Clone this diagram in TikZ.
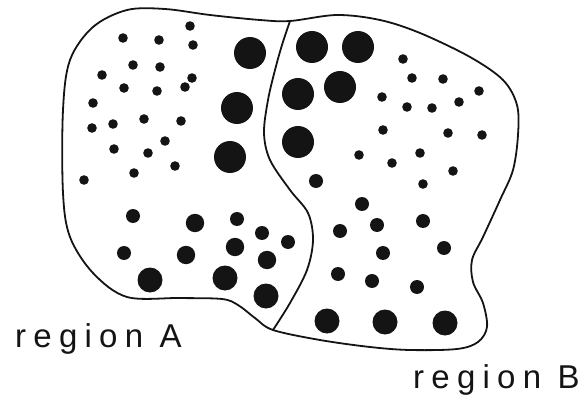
\documentclass[tikz,border=0pt]{standalone}
\usepackage{fontspec}
\usepackage{xcolor}
\usetikzlibrary{math}
\newfontfamily\regionfont[LetterSpace=22]{Liberation Sans}
\definecolor{myink}{RGB}{20,20,20}

\begin{document}
\begin{tikzpicture}[x=1pt,y=-1pt]
\tikzmath{
\rs=4.8;%small grains
\rm=7;
\rmm=9.2;
\rl=12.5;
\rL=16;
}
\tikzset{
outline/.style={draw=myink,line width=1.8pt,line join=round},
grain/.style={fill=myink},
regionlabel/.style={anchor=base west,inner sep=0pt,font=\regionfont\fontsize{33}{33}\selectfont,text=myink}
}
\useasboundingbox (0,0) rectangle (587,404);

% outer boundary
\draw[outline] plot[smooth cycle,tension=0.55] coordinates {
(63,110) (70,60) (93,27) (127,10) (165,9) (210,15) (260,20) (290,21)
(337,15) (380,20) (420,33) (470,57) (503,80) (517,105) (518,135) (513,170)
(500,200) (483,237) (472,260) (473,282) (483,303) (487,327) (478,342)
(457,349) (410,350) (370,347) (320,340) (273,330) (255,318) (238,305)
(222,299) (180,298) (127,297) (93,273) (70,237) (63,193)};

% border between the regions
\draw[outline] plot[smooth,tension=0.55] coordinates {
(290,21) (282,45) (275,70) (268,100) (264,133) (270,160) (290,190)
(308,213) (313,240) (307,270) (290,303) (273,330)};

% small grains
\foreach \x/\y in {190/26,123/38,159/40,193/45,133/65,160/67,102/75,192/78,
124/88,157/91,185/87,93/103,92/128,113/124,144/119,181/121,165/141,114/149,
148/153,175/166,84/180,134/173,
403/59,412/78,443/79,479/91,382/97,407/107,432/108,459/102,383/130,448/133,
482/135,359/155,392/163,420/153,453/171,423/184}
\fill[grain] (\x,\y) circle(\rs);

% medium grains
\foreach \x/\y in {133/216,237/219,262/233,288/242,124/253,316/181,362/204,
377/225,423/221,340/231,444/248,383/253,338/274,372/281,417/287}
\fill[grain] (\x,\y) circle(\rm);
\foreach \x/\y in {195/223,186/255,235/247,267/260}
\fill[grain] (\x,\y) circle(\rmm);

% coarse grains
\foreach \x/\y in {150/280,225/278,266/296,327/321,385/322,445/323}
\fill[grain] (\x,\y) circle(\rl);
\foreach \x/\y in {250/53,237/108,230/157,312/47,358/47,298/94,340/87,298/142}
\fill[grain] (\x,\y) circle(\rL);

\node[regionlabel] (labelA) at (15,347) {region A};
\node[regionlabel] (labelB) at (413,388) {region B};
\end{tikzpicture}
\end{document}
